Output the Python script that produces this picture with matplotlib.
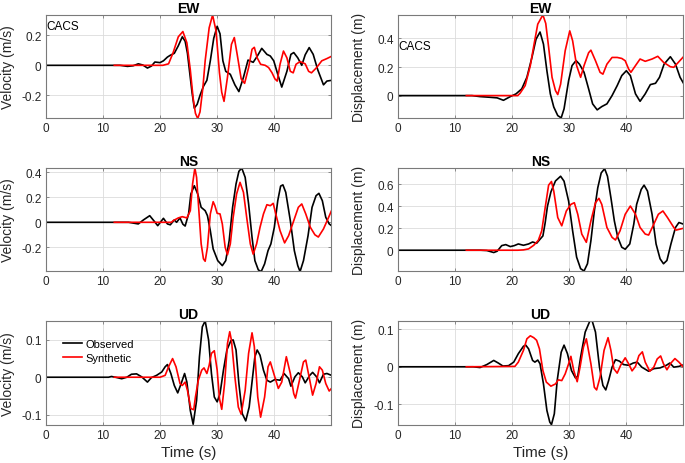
import numpy as np
import matplotlib
matplotlib.use("Agg")
import matplotlib.pyplot as plt

# --- datos (t en s) ---
# EW velocidad (m/s)
ew_vel_obs_t = [0, 13.0, 14.3, 15.3, 16.2, 17.0, 17.8, 18.5, 19.1, 20.0, 20.6, 21.3, 21.8, 22.5, 23.2, 23.9, 24.4, 24.8, 25.2, 25.6,
                26.0, 26.5, 27.0, 27.6, 28.2, 28.8, 29.4, 30.0, 30.5, 31.0, 31.5, 32.3, 33.1, 33.8, 34.6, 35.4, 36.3, 37.0, 37.8, 38.7,
                39.3, 39.9, 40.6, 41.3, 42.2, 42.9, 43.4, 44.1, 44.8, 45.4, 46.1, 46.8, 47.6, 48.6, 49.2, 50.0]
ew_vel_obs = [0, 0, -0.007, -0.003, 0.01, 0.002, -0.018, -0.005, 0.022, 0.018, 0.03, 0.055, 0.067, 0.08, 0.13, 0.19, 0.16, 0.08, -0.05, -0.18,
              -0.285, -0.26, -0.2, -0.14, -0.10, 0.03, 0.18, 0.26, 0.21, 0.03, -0.04, -0.06, -0.13, -0.175, -0.08, 0.035, 0.02, 0.06, 0.113, 0.073,
              0.062, 0.03, -0.06, -0.145, -0.04, 0.073, 0.085, 0.05, 0.0, 0.07, 0.118, 0.073, -0.03, -0.13, -0.105, -0.10]
ew_vel_syn_t = [12, 20.5, 21.5, 22.3, 23.2, 24.0, 24.7, 25.3, 25.8, 26.2, 26.6, 27.0, 27.5, 27.9, 28.6, 29.2, 29.8, 30.4, 30.8, 31.2,
                31.8, 32.5, 33.0, 33.5, 34.2, 34.8, 35.5, 36.1, 36.5, 37.0, 37.6, 38.4, 39.0, 39.6, 40.1, 40.5, 41.0, 41.6, 42.2, 42.8,
                43.3, 43.8, 44.5, 45.4, 46.0, 46.5, 47.4, 48.3, 49.2, 50.0]
ew_vel_syn = [0, 0.0, 0.01, 0.085, 0.19, 0.225, 0.15, -0.03, -0.22, -0.32, -0.355, -0.31, -0.15, 0.03, 0.25, 0.335, 0.23, -0.05, -0.18, -0.24,
              -0.08, 0.14, 0.185, 0.073, -0.09, -0.12, -0.015, 0.107, 0.12, 0.05, 0.007, 0.0, -0.015, -0.05, -0.09, -0.105, 0.007, 0.095, 0.05, -0.04,
              -0.05, 0.007, 0.025, 0.01, -0.04, -0.05, -0.015, 0.03, 0.045, 0.06]

# EW desplazamiento (m)
ew_dis_obs_t = [0, 13.0, 14.4, 16.2, 17.4, 18.5, 19.7, 20.7, 21.7, 22.6, 23.5, 24.2, 24.9, 25.5, 26.1, 26.7, 27.3, 28.0, 28.6, 29.1,
                29.9, 30.5, 31.2, 31.8, 32.6, 33.4, 34.1, 34.9, 35.7, 36.6, 37.5, 38.4, 39.2, 40.0, 40.7, 41.6, 42.4, 43.3, 44.2, 45.1,
                45.8, 46.6, 47.7, 48.6, 49.4, 50.0]
ew_dis_obs = [0, 0, -0.007, -0.012, -0.016, -0.033, -0.007, 0.012, 0.047, 0.128, 0.27, 0.395, 0.445, 0.36, 0.174, 0.012, -0.08, -0.14, -0.156, -0.093,
              0.105, 0.21, 0.245, 0.22, 0.163, 0.047, -0.058, -0.1, -0.077, -0.058, 0.0, 0.07, 0.14, 0.174, 0.14, 0.012, -0.04, 0.012, 0.077, 0.086,
              0.128, 0.22, 0.272, 0.22, 0.128, 0.086]
ew_dis_syn_t = [12, 21.0, 21.4, 22.3, 23.2, 23.9, 24.5, 25.4, 25.9, 26.4, 27.0, 27.6, 28.0, 28.5, 29.3, 30.1, 30.6, 31.3, 32.0, 32.6,
                33.4, 33.8, 34.6, 35.4, 35.9, 36.6, 37.5, 38.4, 39.2, 39.8, 40.4, 40.8, 41.6, 42.4, 43.3, 44.5, 45.5, 46.5, 47.7, 48.3,
                49.1, 50.0]
ew_dis_syn = [0, 0.0, 0.016, 0.07, 0.21, 0.37, 0.5, 0.565, 0.505, 0.34, 0.128, 0.035, 0.007, 0.08, 0.314, 0.453, 0.384, 0.21, 0.128, 0.21,
              0.30, 0.318, 0.244, 0.163, 0.15, 0.22, 0.267, 0.267, 0.26, 0.244, 0.186, 0.163, 0.21, 0.256, 0.24, 0.256, 0.275, 0.233, 0.202, 0.198,
              0.233, 0.272]

# NS velocidad (m/s)
ns_vel_obs_t = [0, 14.5, 16.2, 17.1, 18.2, 19.0, 19.6, 20.6, 21.3, 21.8, 22.5, 22.9, 23.5, 24.0, 24.4, 25.0, 25.4, 26.0, 26.6, 27.2,
                27.9, 28.3, 28.8, 29.3, 30.1, 30.9, 31.5, 32.1, 32.7, 33.3, 33.8, 34.3, 34.9, 35.5, 36.1, 36.6, 37.2, 37.7, 38.3, 38.9,
                39.4, 40.0, 40.6, 41.1, 41.5, 42.0, 42.8, 43.5, 44.1, 44.5, 45.1, 45.9, 46.6, 47.3, 47.8, 48.4, 49.0, 49.6, 50.0]
ns_vel_obs = [0, 0, -0.013, 0.019, 0.053, 0.008, -0.027, 0.032, -0.013, -0.02, 0.019, 0.0, 0.035, -0.015, -0.03, 0.067, 0.227, 0.293, 0.227, 0.12,
              0.093, 0.053, -0.067, -0.213, -0.307, -0.347, -0.307, -0.147, 0.12, 0.307, 0.408, 0.435, 0.36, 0.147, -0.12, -0.307, -0.381, -0.395, -0.333, -0.227,
              -0.173, -0.04, 0.173, 0.29, 0.3, 0.24, 0.013, -0.227, -0.347, -0.395, -0.307, -0.107, 0.12, 0.213, 0.232, 0.173, 0.04, -0.013, -0.027]
ns_vel_syn_t = [12, 22.0, 22.3, 23.2, 23.9, 24.7, 25.3, 25.7, 26.1, 26.4, 26.8, 27.2, 27.6, 27.9, 28.3, 28.8, 29.3, 29.6, 30.0, 30.5,
                30.9, 31.4, 31.8, 32.3, 32.8, 33.4, 34.0, 34.6, 35.2, 35.8, 36.3, 36.9, 37.5, 38.1, 38.7, 39.3, 39.8, 40.4, 41.0, 41.8,
                42.5, 43.4, 44.2, 44.8, 45.5, 46.3, 47.1, 47.7, 48.6, 49.5, 50.0]
ns_vel_syn = [0, 0.0, 0.013, 0.035, 0.045, 0.035, 0.093, 0.307, 0.435, 0.36, 0.093, -0.173, -0.293, -0.312, -0.2, 0.067, 0.165, 0.133, 0.072, 0.067,
              -0.013, -0.2, -0.26, -0.173, 0.04, 0.227, 0.32, 0.24, 0.027, -0.173, -0.255, -0.173, -0.04, 0.067, 0.141, 0.133, 0.152, 0.04, -0.067, -0.165,
              -0.107, 0.013, 0.12, 0.147, 0.067, -0.04, -0.1, -0.118, -0.053, 0.04, 0.093]

# NS desplazamiento (m)
ns_dis_obs_t = [0, 14.5, 15.6, 16.8, 17.4, 18.2, 18.9, 19.7, 20.4, 21.1, 22.0, 22.9, 23.6, 24.3, 24.9, 25.4, 25.8, 26.2, 26.8, 27.6,
                28.5, 29.1, 29.9, 30.6, 31.3, 32.0, 32.6, 33.2, 33.8, 34.4, 35.0, 35.6, 36.2, 36.7, 37.3, 37.9, 38.5, 39.2, 39.8, 40.6,
                41.3, 41.8, 42.6, 43.1, 43.7, 44.5, 45.2, 45.9, 46.5, 47.1, 47.8, 48.6, 49.2, 50.0]
ns_dis_obs = [0, 0, -0.003, -0.021, -0.009, 0.042, 0.051, 0.033, 0.042, 0.057, 0.045, 0.057, 0.075, 0.063, 0.1, 0.13, 0.25, 0.40, 0.53, 0.63,
              0.673, 0.628, 0.447, 0.177, -0.063, -0.168, -0.189, -0.123, 0.087, 0.357, 0.568, 0.703, 0.742, 0.673, 0.477, 0.267, 0.117, 0.027, 0.009, 0.057,
              0.237, 0.417, 0.553, 0.592, 0.538, 0.327, 0.057, -0.078, -0.123, -0.093, 0.057, 0.207, 0.252, 0.237]
ns_dis_syn_t = [12, 21.0, 22.0, 22.9, 23.8, 24.6, 25.2, 25.8, 26.4, 26.9, 27.3, 28.0, 28.7, 29.5, 30.3, 30.9, 31.5, 32.2, 33.0, 33.8,
                34.6, 35.2, 35.7, 36.6, 37.5, 38.1, 38.9, 39.8, 40.7, 41.6, 42.4, 43.3, 43.9, 44.8, 45.6, 46.4, 47.2, 48.3, 48.7, 49.4,
                50.0]
ns_dis_syn = [0, 0.0, 0.003, 0.012, 0.045, 0.09, 0.177, 0.387, 0.592, 0.625, 0.538, 0.297, 0.222, 0.357, 0.417, 0.432, 0.327, 0.147, 0.072, 0.267,
              0.432, 0.472, 0.417, 0.207, 0.117, 0.093, 0.177, 0.327, 0.402, 0.327, 0.207, 0.147, 0.138, 0.237, 0.327, 0.357, 0.297, 0.207, 0.183, 0.192,
              0.2]

# UD velocidad (m/s)
ud_vel_obs_t = [0, 11.0, 11.5, 12.2, 13.3, 14.2, 15.0, 15.9, 16.8, 17.8, 18.5, 19.4, 20.3, 20.9, 21.3, 21.9, 22.5, 23.1, 23.7, 24.3,
                24.7, 25.3, 25.8, 26.4, 26.9, 27.4, 27.9, 28.5, 29.0, 29.5, 30.0, 30.5, 31.1, 31.7, 32.4, 32.8, 33.3, 33.8, 34.4, 35.0,
                35.6, 36.2, 36.6, 37.0, 37.5, 38.1, 38.7, 39.3, 40.1, 41.0, 41.7, 42.5, 42.9, 43.6, 44.2, 44.9, 45.4, 46.2, 46.7, 47.4,
                47.9, 48.6, 49.2, 50.0]
ud_vel_obs = [0, 0, 0.002, 0.0, -0.004, 0.0, 0.008, 0.009, 0.001, -0.013, -0.001, 0.005, 0.014, 0.028, 0.034, 0.01, -0.022, -0.042, -0.017, 0.01,
              -0.013, -0.089, -0.126, -0.062, 0.055, 0.135, 0.151, 0.1, 0.01, -0.053, -0.066, -0.044, 0.019, 0.073, 0.098, 0.1, 0.073, -0.017, -0.098, -0.117,
              -0.08, 0.001, 0.055, 0.073, 0.059, 0.019, -0.008, -0.013, -0.006, -0.008, 0.01, -0.004, -0.024, 0.001, 0.012, 0.001, -0.015, 0.005, 0.013, 0.001,
              -0.015, 0.008, 0.01, 0.005]
ud_vel_syn_t = [12, 20.0, 20.9, 21.5, 22.2, 22.8, 23.5, 23.9, 24.4, 24.8, 25.4, 25.9, 26.2, 26.7, 27.3, 27.7, 28.2, 28.6, 29.0, 29.5,
                30.0, 30.4, 30.8, 31.3, 31.8, 32.2, 32.5, 33.1, 33.7, 34.2, 34.9, 35.5, 36.1, 36.5, 37.1, 37.6, 38.3, 38.9, 39.3, 40.0,
                40.7, 41.3, 42.1, 42.8, 43.4, 43.7, 44.4, 45.1, 45.5, 46.2, 46.7, 47.3, 47.9, 48.4, 49.0, 49.6, 50.0]
ud_vel_syn = [0, 0.0, 0.005, 0.028, 0.05, 0.028, -0.017, -0.022, -0.013, -0.035, -0.084, -0.087, -0.053, -0.008, 0.019, 0.025, 0.01, 0.032, 0.064, 0.071,
              0.019, -0.057, -0.086, -0.017, 0.09, 0.122, 0.099, 0.001, -0.08, -0.099, -0.035, 0.064, 0.119, 0.082, -0.053, -0.107, -0.053, 0.028, 0.041, 0.005,
              -0.03, -0.013, 0.055, 0.01, -0.044, -0.056, -0.008, 0.041, 0.046, -0.008, -0.048, -0.017, 0.028, 0.019, -0.017, -0.037, -0.03]

# UD desplazamiento (m)
ud_dis_obs_t = [0, 13.2, 14.4, 15.6, 16.8, 17.6, 18.4, 19.4, 20.3, 21.1, 22.0, 22.4, 22.9, 23.6, 24.0, 24.5, 24.9, 25.5, 26.1, 26.6,
                26.9, 27.4, 27.9, 28.6, 29.1, 29.7, 30.4, 31.1, 31.5, 32.0, 32.8, 33.6, 34.0, 34.6, 35.3, 35.9, 36.4, 36.9, 37.5, 38.1,
                38.8, 39.5, 40.4, 41.2, 41.9, 42.7, 43.9, 44.8, 45.9, 47.0, 47.6, 48.3, 49.2, 50.0]
ud_dis_obs = [0, 0.0, -0.002, 0.006, 0.017, 0.01, 0.002, 0.003, 0.0125, 0.035, 0.055, 0.058, 0.048, 0.017, 0.0125, 0.018, 0.008, -0.046, -0.117, -0.148,
              -0.155, -0.126, -0.037, 0.039, 0.058, 0.035, -0.01, -0.03, -0.025, 0.026, 0.093, 0.122, 0.124, 0.093, -0.001, -0.05, -0.062, -0.037, -0.001, 0.019,
              0.015, 0.006, 0.004, 0.01, 0.0125, -0.001, -0.012, -0.005, -0.003, 0.004, 0.01, -0.001, 0.001, 0.005]
ud_dis_syn_t = [12, 20.5, 21.1, 22.0, 22.6, 23.2, 23.8, 24.3, 24.8, 25.4, 26.0, 26.8, 27.6, 28.1, 28.7, 29.3, 29.9, 30.3, 30.8, 31.4,
                31.9, 32.5, 33.0, 33.8, 34.4, 34.8, 35.4, 36.1, 36.8, 37.3, 37.8, 38.4, 39.0, 39.8, 40.4, 41.0, 41.6, 42.2, 42.8, 43.3,
                44.1, 44.8, 45.4, 46.0, 46.5, 47.1, 47.8, 48.5, 49.2, 50.0]
ud_dis_syn = [0, 0.001, 0.0125, 0.044, 0.075, 0.083, 0.078, 0.071, 0.048, -0.01, -0.041, -0.052, -0.046, -0.035, -0.037, -0.019, 0.008, 0.028, -0.01, -0.04,
              -0.001, 0.053, 0.075, 0.008, -0.055, -0.062, -0.028, 0.044, 0.078, 0.044, -0.005, -0.017, 0.004, 0.024, 0.008, -0.011, 0.001, 0.03, 0.04, 0.0125,
              -0.012, -0.001, 0.021, 0.029, 0.008, -0.008, 0.01, 0.022, 0.0125, -0.001]

componentes = ['EW', 'NS', 'UD']
estacion = 'CACS'

plt.rcParams['font.family'] = ['Liberation Sans', 'DejaVu Sans']
plt.rcParams['axes.unicode_minus'] = False

fig = plt.figure(figsize=(6.85, 4.64), dpi=100)

# posiciones de los ejes (fraccion de figura)
x_izq, x_der = 0.0667, 0.5806
ancho = 0.4168
filas = [(0.7435, 0.2226), (0.4138, 0.2220), (0.0819, 0.2252)]

paneles = [
    # (obs_t, obs, syn_t, syn, ylim, yticks, ylabel, columna)
    (ew_vel_obs_t, ew_vel_obs, ew_vel_syn_t, ew_vel_syn, (-0.351, 0.337), [-0.2, 0, 0.2], 'Velocity (m/s)', 0),
    (ew_dis_obs_t, ew_dis_obs, ew_dis_syn_t, ew_dis_syn, (-0.157, 0.566), [0, 0.2, 0.4], 'Displacement (m)', 1),
    (ns_vel_obs_t, ns_vel_obs, ns_vel_syn_t, ns_vel_syn, (-0.39, 0.435), [-0.2, 0, 0.2, 0.4], 'Velocity (m/s)', 0),
    (ns_dis_obs_t, ns_dis_obs, ns_dis_syn_t, ns_dis_syn, (-0.189, 0.748), [0, 0.2, 0.4, 0.6], 'Displacement (m)', 1),
    (ud_vel_obs_t, ud_vel_obs, ud_vel_syn_t, ud_vel_syn, (-0.128, 0.152), [-0.1, 0, 0.1], 'Velocity (m/s)', 0),
    (ud_dis_obs_t, ud_dis_obs, ud_dis_syn_t, ud_dis_syn, (-0.156, 0.124), [-0.1, 0, 0.1], 'Displacement (m)', 1),
]

color_marco = '#7a7a7a'
ejes = []
for i, (ot, ov, st, sv, ylim, yt, ylab, col) in enumerate(paneles):
    fila = i // 2
    b, h = filas[fila]
    ax = fig.add_axes([x_izq if col == 0 else x_der, b, ancho, h])
    ax.plot(ot, ov, color='black', lw=1.2, label='Observed')
    ax.plot(st, sv, color='#ff0000', lw=1.2, label='Synthetic')
    ax.set_xlim(0, 49.95)
    ax.set_ylim(*ylim)
    ax.set_xticks([0, 10, 20, 30, 40])
    ax.set_yticks(yt)
    ax.set_yticklabels([('%g' % v) for v in yt])
    ax.grid(True, color='#dcdcdc', lw=0.6)
    ax.set_axisbelow(True)
    for s in ax.spines.values():
        s.set_color(color_marco)
        s.set_linewidth(0.8)
    ax.tick_params(direction='in', length=2.5, width=0.6, color=color_marco,
                   labelsize=8.5, labelcolor='#262626', pad=3, top=True, right=True)
    ax.set_ylabel(ylab, fontsize=10, color='#262626')
    ax.yaxis.set_label_coords(-0.107 if col == 0 else -0.112, 0.5)
    ax.set_title(componentes[fila], fontsize=10, fontweight='bold', pad=2)
    if fila == 2:
        ax.set_xlabel('Time (s)', fontsize=11, color='#262626', labelpad=3)
    ejes.append(ax)

ejes[0].text(0.003, 0.89, estacion, transform=ejes[0].transAxes, fontsize=8.5, va='center', ha='left')
ejes[1].text(0.003, 0.70, estacion, transform=ejes[1].transAxes, fontsize=8.5, va='center', ha='left')

ejes[4].legend(loc='upper left', frameon=False, fontsize=8, handlelength=1.7,
               handletextpad=0.3, labelspacing=0.35, borderpad=0.2,
               bbox_to_anchor=(0.035, 0.9))

fig.savefig('out.png', dpi=100)
